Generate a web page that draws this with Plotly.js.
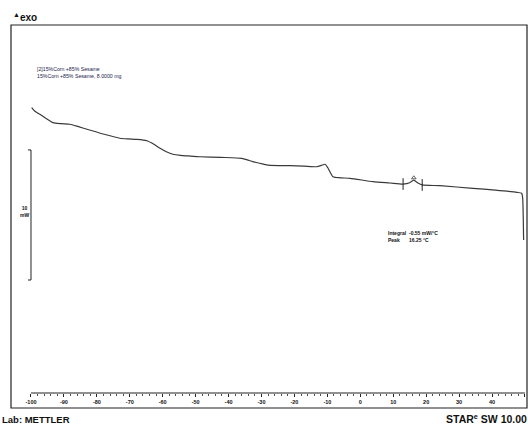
<!DOCTYPE html>
<html>
<head>
<meta charset="utf-8">
<script src="https://cdn.plot.ly/plotly-3.0.1.min.js"></script>
<style>html,body{margin:0;padding:0;background:#fff;}#chart{width:528px;height:425px;}</style>
</head>
<body>
<div id="chart"></div>
<script>
// Temperature (°C) and heat flow (mW)
var temperature = [-99.8, -98.8, -97.3, -95.3, -93.3, -90.8, -88.2, -85.6, -83.0, -78.1, -73.0, -70.4, -67.8, -64.8, -62.8, -60.8, -58.9, -56.9, -54.6, -52.3, -48.7, -42.4, -36.0, -34.3, -32.6, -28.0, -21.3, -17.2, -13.2, -11.8, -10.7, -9.8, -8.3, -6.0, -3.1, 3.9, 9.0, 13.0, 15.0, 16.25, 17.5, 18.8, 24.2, 34.2, 41.0, 47.6, 49.0, 49.3, 49.5, 49.6];
var heatFlow = [14.80, 14.52, 14.28, 13.95, 13.64, 13.56, 13.52, 13.33, 13.13, 12.77, 12.44, 12.39, 12.36, 12.25, 12.00, 11.67, 11.40, 11.21, 11.12, 11.08, 11.02, 10.97, 10.90, 10.78, 10.64, 10.38, 10.33, 10.30, 10.25, 10.35, 10.44, 10.15, 9.48, 9.40, 9.36, 9.10, 9.00, 8.92, 9.02, 9.22, 9.00, 8.85, 8.79, 8.59, 8.45, 8.28, 8.21, 7.90, 6.20, 4.62];

var tickLabels = ["-100", "-90", "-80", "-70", "-60", "-50", "-40", "-30", "-20", "-10", "0", "10", "20", "30", "40", "°C"];
var tickValues = [-100, -90, -80, -70, -60, -50, -40, -30, -20, -10, 0, 10, 20, 30, 40, 50];

// Integration limits and peak
var integrationLimits = [13.0, 18.8];
var limitHeatFlow = [8.92, 8.85];
var peakTemperature = [16.25];
var peakHeatFlow = [9.22];

// Scale bar (10 mW)
var scaleBarTemp = -100;
var scaleBarRange = [1.54, 11.54];

var sampleLines = ["[2]15%Corn +85% Sesame", "15%Corn +85% Sesame, 8.0000 mg"];
var resultLabels = ["Integral", "Peak"];
var resultValues = ["-0.55 mW/°C", "16.25 °C"];

var minorTicks = [];
for (var t = -100; t <= 50; t += 2) { if (t % 10 !== 0) minorTicks.push(t); }

var lineColor = '#3a3a3a';
var textFont = 'Liberation Sans, Arial, sans-serif';

var traces = [
  {
    x: temperature, y: heatFlow, type: 'scatter', mode: 'lines',
    line: {color: lineColor, width: 1.2, shape: 'spline', smoothing: 0.6},
    hoverinfo: 'skip', showlegend: false
  },
  {
    x: peakTemperature, y: peakHeatFlow.map(function(v){return v + 0.18;}),
    type: 'scatter', mode: 'markers',
    marker: {symbol: 'triangle-up-open', size: 4, color: lineColor, line: {width: 0.8, color: lineColor}},
    hoverinfo: 'skip', showlegend: false
  }
];

var shapes = [
  {type: 'rect', xref: 'paper', yref: 'paper', x0: 0, x1: 1, y0: -0.0408, y1: 1,
   line: {color: '#222', width: 1.2}},
  {type: 'line', xref: 'x', yref: 'paper', x0: tickValues[0], x1: tickValues[tickValues.length-1], y0: 0, y1: 0,
   line: {color: '#222', width: 1}},
  {type: 'line', xref: 'x', yref: 'y', x0: scaleBarTemp, x1: scaleBarTemp, y0: scaleBarRange[0], y1: scaleBarRange[1],
   line: {color: '#222', width: 1}},
  {type: 'line', xref: 'x', yref: 'y', x0: scaleBarTemp - 0.9, x1: scaleBarTemp, y0: scaleBarRange[0], y1: scaleBarRange[0],
   line: {color: '#222', width: 1}},
  {type: 'line', xref: 'x', yref: 'y', x0: scaleBarTemp - 0.9, x1: scaleBarTemp, y0: scaleBarRange[1], y1: scaleBarRange[1],
   line: {color: '#222', width: 1}}
];
integrationLimits.forEach(function(t, i){
  shapes.push({type: 'line', xref: 'x', yref: 'y', x0: t, x1: t,
    y0: limitHeatFlow[i] - 0.45, y1: limitHeatFlow[i] + 0.45, line: {color: '#222', width: 1}});
});

var annotations = [
  {xref: 'paper', yref: 'paper', x: 0.0465, y: 0.871, xanchor: 'left', yanchor: 'middle', align: 'left',
   showarrow: false, text: sampleLines.join('<br>'), font: {family: textFont, size: 5.2, color: '#1a1a4a'}},
  {xref: 'paper', yref: 'paper', x: 0.726, y: 0.426, xanchor: 'left', yanchor: 'middle', align: 'left',
   showarrow: false, text: '<b>' + resultLabels.join('<br>') + '</b>', font: {family: textFont, size: 5, color: '#111'}},
  {xref: 'paper', yref: 'paper', x: 0.768, y: 0.426, xanchor: 'left', yanchor: 'middle', align: 'left',
   showarrow: false, text: '<b>' + resultValues.join('<br>') + '</b>', font: {family: textFont, size: 5, color: '#111'}},
  {xref: 'paper', yref: 'paper', x: 0.026, y: 0.493, xanchor: 'center', yanchor: 'middle', align: 'center',
   showarrow: false, text: '<b>10<br>mW</b>', font: {family: textFont, size: 5, color: '#111'}},
  {xref: 'paper', yref: 'paper', x: 0.0, y: 1.022, xanchor: 'left', yanchor: 'middle', align: 'left',
   showarrow: false, text: '<b><sup>▲</sup>exo</b>', font: {family: textFont, size: 10, color: '#111'}},
  {xref: 'paper', yref: 'paper', x: -0.0213, y: -0.073, xanchor: 'left', yanchor: 'middle', align: 'left',
   showarrow: false, text: '<b>Lab: METTLER</b>', font: {family: textFont, size: 9.5, color: '#111'}},
  {xref: 'paper', yref: 'paper', x: 1.004, y: -0.068, xanchor: 'right', yanchor: 'middle', align: 'right',
   showarrow: false, text: '<b>STAR<sup>e</sup> SW 10.00</b>', font: {family: textFont, size: 10.5, color: '#111'}}
];

var layout = {
  width: 528, height: 425,
  margin: {l: 11, r: 1, t: 25, b: 32, pad: 0},
  paper_bgcolor: '#fff', plot_bgcolor: '#fff',
  showlegend: false,
  xaxis: {
    range: [-106.07, 50.63], showgrid: false, zeroline: false, showline: false,
    tickmode: 'array', tickvals: tickValues,
    ticktext: tickLabels.map(function(s){ return '<b>' + s + '</b>'; }),
    ticks: 'outside', ticklen: 3, tickwidth: 1, tickcolor: '#222',
    tickfont: {family: textFont, size: 5.5, color: '#111'},
    minor: {tickmode: 'array', tickvals: minorTicks, ticks: 'outside', ticklen: 2, tickwidth: 0.8, tickcolor: '#222', showgrid: false},
    fixedrange: true
  },
  yaxis: {range: [-7.15, 21.15], visible: false, fixedrange: true},
  shapes: shapes,
  annotations: annotations
};

Plotly.newPlot('chart', traces, layout, {displayModeBar: false, staticPlot: true});
</script>
</body>
</html>
